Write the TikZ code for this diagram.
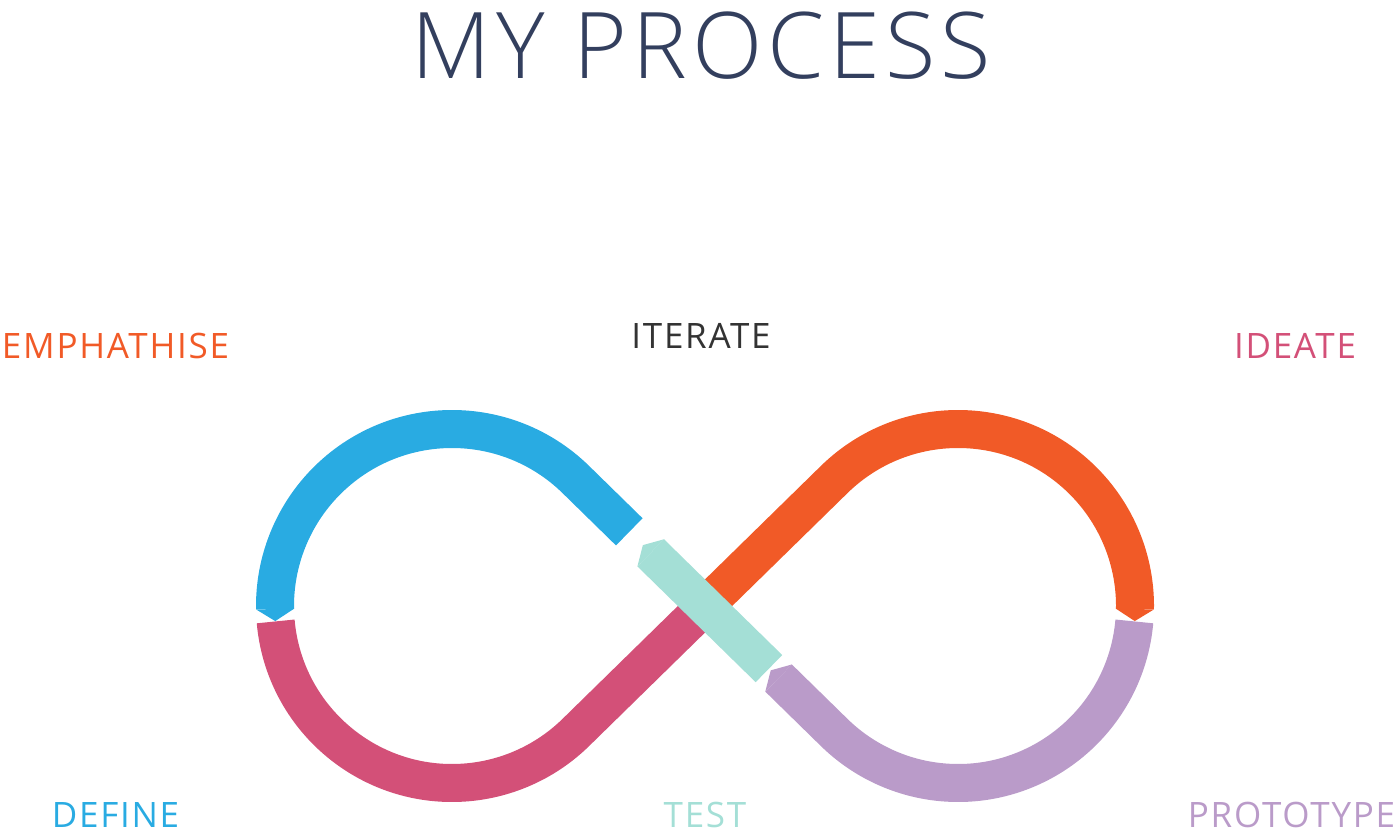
\documentclass[tikz,border=0pt]{standalone}
\usepackage{fontspec}
\setmainfont{Open Sans}
\newfontfamily\lightfont{Open Sans}[UprightFont={* Light}]
\usetikzlibrary{calc}
\definecolor{cblue}{HTML}{29ABE2}
\definecolor{cpink}{HTML}{D35078}
\definecolor{corange}{HTML}{F15A27}
\definecolor{cpurple}{HTML}{BA9BC9}
\definecolor{cteal}{HTML}{A4DFD6}
\definecolor{ctitle}{HTML}{333F5E}
\definecolor{cgray}{HTML}{333333}
\tikzset{
  band/.style={line width=38pt, line cap=butt},
  lbl/.style={anchor=base, inner sep=0pt, font=\fontsize{35}{40}\selectfont\addfontfeature{LetterSpace=5}},
}
\begin{document}
\begin{tikzpicture}[x=1pt,y=1pt]
\useasboundingbox (0,0) rectangle (1400,838);
\coordinate (L) at (452,232);
\coordinate (R) at (958,232);
\coordinate (P) at (705,232);
\coordinate (tlu) at ($(L)+(45.6:177)$);
\coordinate (tru) at ($(R)+(134.4:177)$);
\coordinate (bs) at ($(P)+(135.6:106)$);
\coordinate (ps) at ($(L)+(185:177)$);
\coordinate (us) at ($(R)+(-5:177)$);
\coordinate (ue) at ($(P)+(-44.4:103)$);
\coordinate (ts) at ($(P)+(-44.4:89.5)$);
\coordinate (te) at ($(P)+(135.6:76)$);
% blue
\draw[band, cblue] (bs) -- (tlu) arc[start angle=45.6, end angle=181, radius=177];
\fill[cblue] ($(L)+(181:158)$) -- ($(L)+(181:177)+(271:12)$) -- ($(L)+(181:196)$) -- cycle;
% pink
\draw[band, cpink] (ps) arc[start angle=185, end angle=314.4, radius=177] -- (P);
% orange
\draw[band, corange] (P) -- (tru) arc[start angle=134.4, end angle=-1, radius=177];
\fill[corange] ($(R)+(-1:158)$) -- ($(R)+(-1:177)+(-91:12)$) -- ($(R)+(-1:196)$) -- cycle;
% purple
\draw[band, cpurple] (us) arc[start angle=-5, end angle=-134.4, radius=177] -- (ue);
\fill[cpurple] ($(ue)+(45.6:19)$) -- ($(ue)+(135.6:11)$) -- ($(ue)+(225.6:19)$) -- cycle;
% teal
\draw[band, cteal] (ts) -- (te);
\fill[cteal] ($(te)+(45.6:19)$) -- ($(te)+(135.6:11)$) -- ($(te)+(225.6:19)$) -- cycle;
% texts
\node[anchor=base, inner sep=0pt, text=ctitle, font=\lightfont\fontsize{92}{100}\selectfont\addfontfeature{LetterSpace=5.5}] (title) at (701.5,759) {MY PROCESS};
\node[lbl, text=corange] (emp) at (115.5,479) {EMPHATHISE};
\node[lbl, text=cgray] (ite) at (701,489) {ITERATE};
\node[lbl, text=cpink] (ide) at (1295,479) {IDEATE};
\node[lbl, text=cblue] (def) at (115.5,11) {DEFINE};
\node[lbl, text=cteal] (tst) at (705,11) {TEST};
\node[lbl, text=cpurple] (pro) at (1291.5,11) {PROTOTYPE};
\end{tikzpicture}
\end{document}
